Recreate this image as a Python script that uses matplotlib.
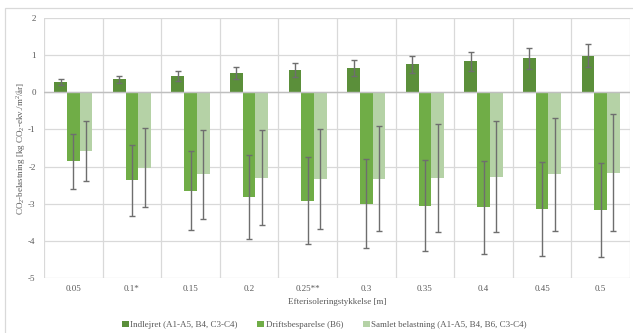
import matplotlib
matplotlib.use("Agg")
import matplotlib.pyplot as plt
import numpy as np
from matplotlib.patches import Rectangle

plt.rcParams['font.family'] = ['Liberation Serif', 'DejaVu Serif']
plt.rcParams['mathtext.default'] = 'regular'

categories = ["0.05", "0.1*", "0.15", "0.2", "0.25**", "0.3", "0.35", "0.4", "0.45", "0.5"]

indlejret = [0.27, 0.35, 0.44, 0.51, 0.59, 0.66, 0.75, 0.83, 0.91, 0.99]
indlejret_err = [0.08, 0.10, 0.14, 0.16, 0.19, 0.21, 0.23, 0.26, 0.28, 0.30]

drift = [-1.86, -2.37, -2.65, -2.81, -2.92, -3.00, -3.05, -3.10, -3.14, -3.17]
drift_err = [0.75, 0.95, 1.07, 1.13, 1.17, 1.20, 1.22, 1.25, 1.26, 1.27]

samlet = [-1.58, -2.03, -2.21, -2.30, -2.33, -2.33, -2.30, -2.27, -2.21, -2.16]
samlet_err = [0.82, 1.06, 1.20, 1.28, 1.35, 1.41, 1.45, 1.50, 1.53, 1.57]

series_names = ["Indlejret (A1-A5, B4, C3-C4)", "Driftsbesparelse (B6)",
                "Samlet belastning (A1-A5, B4, B6, C3-C4)"]
colors = ["#5B8F3A", "#70AD47", "#B5D2A6"]

text_color = "#595959"
grid_color = "#D9D9D9"
fs = 6.5

fig = plt.figure(figsize=(6.33, 3.33), dpi=100)
W, H = 633, 333
ax = fig.add_axes([44 / W, 1 - 278 / H, (630 - 44) / W, (278 - 18) / H])

# chart border
fig.add_artist(Rectangle((5 / W, -0.05), 1.2, 1 - 8 / H + 0.05, transform=fig.transFigure,
                         fill=False, edgecolor=grid_color, linewidth=0.9))

x = np.arange(len(categories))
w = 0.217
err_kw = dict(ecolor="#6E6E6E", elinewidth=1.0, capsize=2.2, capthick=1.0)
for off, vals, errs, col, name in zip([-w, 0, w], [indlejret, drift, samlet],
                                      [indlejret_err, drift_err, samlet_err], colors, series_names):
    ax.bar(x + off, vals, width=w, color=col, label=name, yerr=errs, error_kw=err_kw, zorder=3)

ax.set_xlim(-0.5, len(categories) - 0.5)
ax.set_ylim(-5, 2)
ax.set_yticks(np.arange(-5, 3, 1))
ax.set_yticklabels([str(v) for v in range(-5, 3)])
ax.set_xticks(x)
ax.set_xticklabels(categories)
ax.set_xticks(np.arange(-0.5, len(categories), 1.0), minor=True)

ax.grid(axis='y', which='major', color=grid_color, linewidth=0.9, zorder=0)
ax.grid(axis='x', which='minor', color=grid_color, linewidth=0.9, zorder=0)
ax.axhline(0, color="#BFBFBF", linewidth=1.0, zorder=4)

for s in ax.spines.values():
    s.set_visible(False)
ax.tick_params(axis='both', which='both', length=0, labelsize=fs, labelcolor=text_color)
ax.tick_params(axis='x', pad=5)
ax.tick_params(axis='y', pad=6)

ax.set_xlabel("Efterisoleringstykkelse [m]", fontsize=fs, color=text_color, labelpad=4)
fig.text(21 / W, 1 - 148 / H, "CO$_2$-belastning [kg CO$_2$-ekv./m$^2$/år]", rotation=90,
         ha='center', va='center', fontsize=fs, color=text_color)

fig.legend(loc='center', bbox_to_anchor=(0.5 + 8 / W, 1 - 325 / H), ncol=3, frameon=False,
           fontsize=fs, labelcolor=text_color, handlelength=0.75, handleheight=0.75,
           handletextpad=0.2, columnspacing=2.15)

fig.savefig("out.png", dpi=100)
